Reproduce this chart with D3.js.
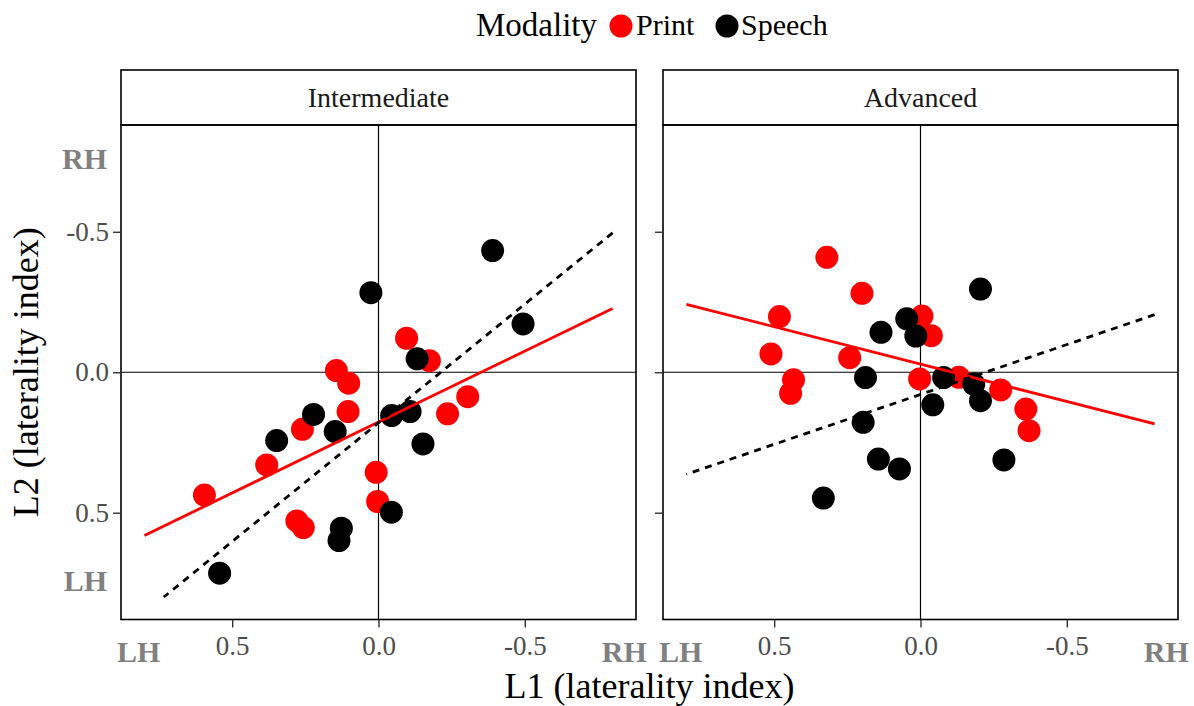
<!DOCTYPE html>
<html>
<head>
<meta charset="utf-8">
<script src="https://cdn.jsdelivr.net/npm/d3@7"></script>
<style>
  html, body { margin: 0; padding: 0; background: #fff; }
  svg { display: block; }
  text { font-family: "Liberation Serif", "Times New Roman", serif; }
</style>
</head>
<body>
<svg id="chart" width="1194" height="706"></svg>
<script>
// ---------- data (L1 = x, L2 = y; laterality index) ----------
const panelNames = ["Intermediate", "Advanced"];
const modalities = ["Print", "Speech"];
const modalityColors = ["#ff0000", "#000000"];

const intermediatePrint = [
  [-0.096, -0.121], [-0.174, -0.041], [0.144, -0.006], [0.102, 0.039],
  [0.104, 0.140], [0.260, 0.203], [0.382, 0.330], [-0.236, 0.148],
  [-0.305, 0.087], [0.595, 0.437], [0.008, 0.356], [0.003, 0.460],
  [0.279, 0.529], [0.257, 0.553]
];
const intermediateSpeech = [
  [0.026, -0.283], [-0.132, -0.048], [0.222, 0.150], [0.148, 0.211],
  [0.348, 0.243], [-0.045, 0.154], [-0.108, 0.140], [-0.152, 0.255],
  [-0.390, -0.433], [-0.494, -0.172], [-0.044, 0.498], [0.127, 0.555],
  [0.135, 0.599], [0.543, 0.715]
];
const advancedPrint = [
  [0.320, -0.409], [0.200, -0.281], [0.482, -0.198], [0.511, -0.065],
  [0.242, -0.052], [0.434, 0.027], [0.444, 0.075], [-0.005, -0.200],
  [-0.037, -0.130], [0.003, 0.024], [-0.131, 0.018], [-0.274, 0.063],
  [-0.360, 0.131], [-0.371, 0.208]
];
const advancedSpeech = [
  [0.135, -0.142], [0.047, -0.190], [0.188, 0.019], [0.196, 0.178],
  [0.144, 0.309], [0.072, 0.344], [0.332, 0.448], [0.016, -0.129],
  [-0.205, -0.296], [-0.079, 0.019], [-0.182, 0.042], [-0.205, 0.101],
  [-0.042, 0.116], [-0.285, 0.312]
];

// fitted lines (intercept, slope) per panel, per modality
const fitIntercepts = [[0.177, 0.180], [-0.029, 0.079]];
const fitSlopes = [[0.505, 0.845], [-0.266, 0.355]];

const tickValues = [0.5, 0.0, -0.5];
const tickLabels = ["0.5", "0.0", "-0.5"];
const endLabelsX = [["LH", 0.82], ["RH", -0.84]];
const endLabelsY = [["RH", -0.76], ["LH", 0.74]];
const axisLimits = [-0.8, 0.8];

// ---------- layout ----------
const svg = d3.select("#chart");
const panelLefts = [121, 663];
const panelW = 515;
const panelTop = 125, panelBottom = 619.5;
const stripTop = 70;
const expand = 0.08;
const dom = [axisLimits[0] - expand, axisLimits[1] + expand];

const y = d3.scaleLinear().domain(dom).range([panelTop, panelBottom]);
const panelData = [[intermediatePrint, intermediateSpeech], [advancedPrint, advancedSpeech]];
const font = '"Liberation Serif", "Times New Roman", serif';

panelNames.forEach((name, pi) => {
  const left = panelLefts[pi];
  const x = d3.scaleLinear().domain([dom[1], dom[0]]).range([left, left + panelW]);
  const g = svg.append("g");

  // strip
  g.append("rect").attr("x", left).attr("y", stripTop)
    .attr("width", panelW).attr("height", panelTop - stripTop)
    .attr("fill", "#fff").attr("stroke", "#000").attr("stroke-width", 1.6);
  g.append("text").attr("x", left + panelW / 2).attr("y", (stripTop + panelTop) / 2 + 9)
    .attr("text-anchor", "middle").attr("font-size", 28).attr("fill", "#1a1a1a").text(name);

  // zero reference lines
  g.append("line").attr("x1", x(0)).attr("x2", x(0)).attr("y1", panelTop).attr("y2", panelBottom)
    .attr("stroke", "#000").attr("stroke-width", 1.2);
  g.append("line").attr("x1", left).attr("x2", left + panelW).attr("y1", y(0)).attr("y2", y(0))
    .attr("stroke", "#000").attr("stroke-width", 1.2);

  // points
  modalities.forEach((m, mi) => {
    g.append("g").selectAll("circle").data(panelData[pi][mi]).join("circle")
      .attr("cx", d => x(d[0])).attr("cy", d => y(d[1])).attr("r", 11.5)
      .attr("fill", modalityColors[mi]);
  });

  // fitted lines, clipped to axis limits
  modalities.forEach((m, mi) => {
    const a = fitIntercepts[pi][mi], b = fitSlopes[pi][mi];
    let lo = axisLimits[0], hi = axisLimits[1];
    if (b !== 0) {
      const e1 = (axisLimits[0] - a) / b, e2 = (axisLimits[1] - a) / b;
      lo = Math.max(lo, Math.min(e1, e2));
      hi = Math.min(hi, Math.max(e1, e2));
    }
    const pts = [lo, hi].map(v => [v, a + b * v]);
    g.append("path").datum(pts)
      .attr("d", d3.line().x(d => x(d[0])).y(d => y(d[1])))
      .attr("fill", "none").attr("stroke", modalityColors[mi])
      .attr("stroke-width", 2.8)
      .attr("stroke-dasharray", mi === 1 ? "7,6" : null);
  });

  // panel border
  g.append("rect").attr("x", left).attr("y", panelTop).attr("width", panelW)
    .attr("height", panelBottom - panelTop).attr("fill", "none")
    .attr("stroke", "#000").attr("stroke-width", 1.6);

  // x axis
  const xAxis = d3.axisBottom(x).tickValues(tickValues)
    .tickFormat((d, i) => tickLabels[i]).tickSize(8).tickPadding(8);
  const xa = g.append("g").attr("transform", `translate(0,${panelBottom})`).call(xAxis);
  xa.select(".domain").remove();
  xa.selectAll(".tick line").attr("stroke", "#333").attr("stroke-width", 1.4);
  xa.selectAll(".tick text").attr("font-family", font).attr("font-size", 27).attr("fill", "#4d4d4d");
  endLabelsX.forEach(([lab, v]) => {
    g.append("text").attr("x", x(v)).attr("y", 662).attr("text-anchor", "middle")
      .attr("font-size", 30).attr("font-weight", "bold").attr("fill", "#808080").text(lab);
  });

  // y axis
  const yAxis = d3.axisLeft(y).tickValues(tickValues)
    .tickFormat((d, i) => pi === 0 ? tickLabels[i] : "").tickSize(8).tickPadding(4);
  const ya = g.append("g").attr("transform", `translate(${left},0)`).call(yAxis);
  ya.select(".domain").remove();
  ya.selectAll(".tick line").attr("stroke", "#333").attr("stroke-width", 1.4);
  ya.selectAll(".tick text").attr("font-family", font).attr("font-size", 27).attr("fill", "#4d4d4d");
  if (pi === 0) {
    endLabelsY.forEach(([lab, v]) => {
      g.append("text").attr("x", left - 14).attr("y", y(v)).attr("dy", "0.35em")
        .attr("text-anchor", "end").attr("font-size", 30).attr("font-weight", "bold")
        .attr("fill", "#808080").text(lab);
    });
  }
});

// axis titles
svg.append("text").attr("x", (panelLefts[0] + panelLefts[1] + panelW) / 2).attr("y", 698)
  .attr("text-anchor", "middle").attr("font-size", 36).attr("fill", "#000")
  .text("L1 (laterality index)");
svg.append("text")
  .attr("transform", `translate(38,${(panelTop + panelBottom) / 2}) rotate(-90)`)
  .attr("text-anchor", "middle").attr("font-size", 36).attr("fill", "#000")
  .text("L2 (laterality index)");

// legend
const lg = svg.append("g");
lg.append("text").attr("x", 476).attr("y", 36).attr("font-size", 33).attr("fill", "#000").text("Modality");
const legX = [[621, 636], [727, 741]];
modalities.forEach((m, mi) => {
  lg.append("circle").attr("cx", legX[mi][0]).attr("cy", 26).attr("r", 11.5).attr("fill", modalityColors[mi]);
  lg.append("text").attr("x", legX[mi][1]).attr("y", 35).attr("font-size", 30).attr("fill", "#000").text(m);
});
</script>
</body>
</html>
